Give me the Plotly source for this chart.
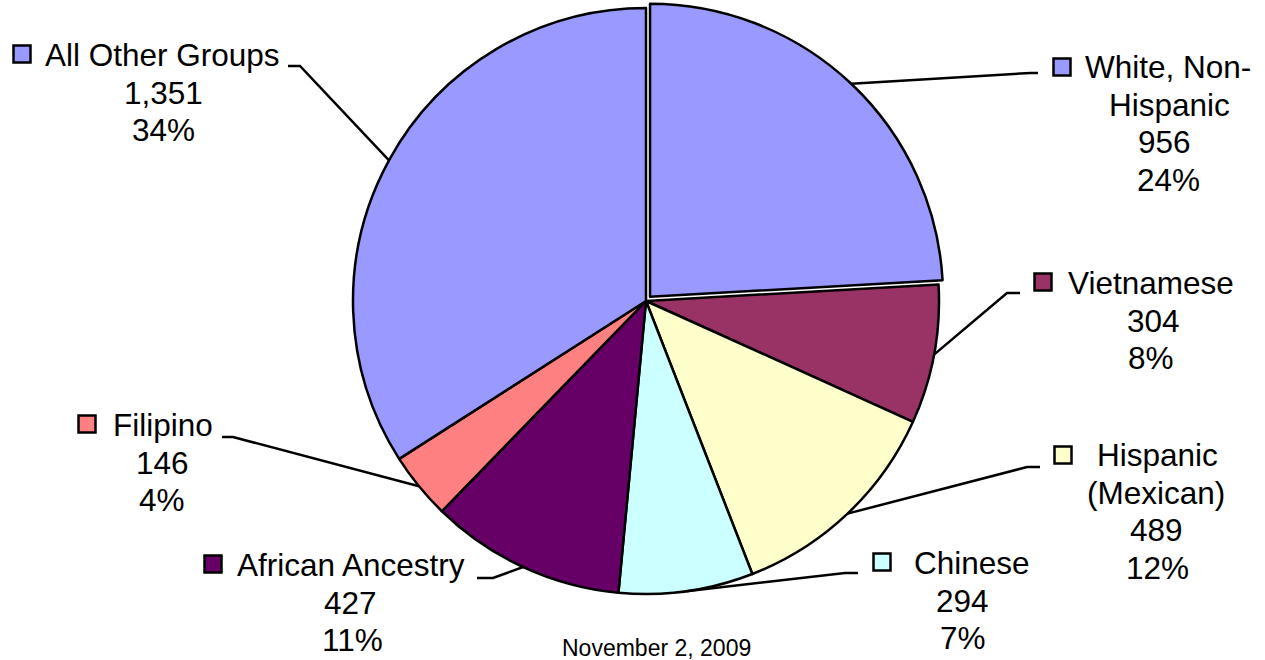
import math
import plotly.graph_objects as go

# ---------------- data ----------------
groups = ["White, Non-Hispanic", "Vietnamese", "Hispanic (Mexican)", "Chinese",
          "African Ancestry", "Filipino", "All Other Groups"]
counts = [956, 304, 489, 294, 427, 146, 1351]
label_lines = [["White, Non-", "Hispanic"], ["Vietnamese"], ["Hispanic", "(Mexican)"],
               ["Chinese"], ["African Ancestry"], ["Filipino"], ["All Other Groups"]]
date_text = "November 2, 2009"

# ---------------- styles / layout ----------------
colors = ["#9999FF", "#993366", "#FFFFCC", "#CCFFFF", "#660066", "#FF8080", "#9999FF"]
pulls = [0.02, 0, 0, 0, 0, 0, 0]

W, H = 1265, 660
CX, CY, R = 646, 301, 293
FONT = "Arial, Liberation Sans, sans-serif"
FS = 31.5
LS = 37.5
SQ = 17

# label placement (pixel layout): line x-centres, first line y, square centre, leader elbow, leader end
label_layout = [
    dict(xs=[1168, 1169, 1164, 1168], y0=67, sq=(1062, 67), elbow=(1030, 73), end=(1038, 73)),
    dict(xs=[1151, 1153, 1151], y0=283, sq=(1043, 282), elbow=(1007, 293), end=(1020, 293)),
    dict(xs=[1157, 1156, 1156, 1157], y0=455, sq=(1063, 455), elbow=(1027, 467), end=(1040, 467)),
    dict(xs=[972, 962, 963], y0=563, sq=(882, 562), elbow=(845, 573), end=(858, 573)),
    dict(xs=[351, 350, 352], y0=565, sq=(213, 564), elbow=(493, 578), end=(477, 578)),
    dict(xs=[163, 162, 162], y0=425, sq=(87, 424), elbow=(233, 437), end=(222, 437)),
    dict(xs=[162, 163, 163], y0=55, sq=(22, 54), elbow=(300, 66), end=(288, 66)),
]

total = sum(counts)
maxpull = max(pulls)
half = R * (1 + maxpull)
dom_x = [(CX - half) / W, (CX + half) / W]
dom_y = [(H - CY - half) / H, (H - CY + half) / H]

fig = go.Figure()
fig.add_trace(go.Pie(
    labels=groups, values=counts, sort=False, direction="clockwise", rotation=0,
    marker=dict(colors=colors, line=dict(color="black", width=2.5)),
    pull=pulls, textinfo="none", hoverinfo="label+value+percent",
    showlegend=False, domain=dict(x=dom_x, y=dom_y),
))

shapes = []
annotations = []
cum = 0
for g, c, lines, col, p, lay in zip(groups, counts, label_lines, colors, pulls, label_layout):
    mid = 2 * math.pi * (cum + c / 2) / total
    cum += c
    rr = R * (1 + p)
    sx = CX + rr * math.sin(mid)
    sy = CY - rr * math.cos(mid)
    ex, ey = lay["elbow"]
    nx, ny = lay["end"]
    shapes.append(dict(type="path", xref="x", yref="y",
                       path=f"M {sx:.1f} {sy:.1f} L {ex} {ey} L {nx} {ny}",
                       line=dict(color="black", width=2.5)))
    qx, qy = lay["sq"]
    shapes.append(dict(type="rect", xref="x", yref="y",
                       x0=qx - SQ / 2, x1=qx + SQ / 2, y0=qy - SQ / 2, y1=qy + SQ / 2,
                       fillcolor=col, line=dict(color="black", width=2.5)))
    pct = round(100 * c / total)
    texts = list(lines) + [f"{c:,}", f"{pct}%"]
    for i, (t, x) in enumerate(zip(texts, lay["xs"])):
        annotations.append(dict(x=x, y=lay["y0"] + i * LS, xref="x", yref="y",
                                text=t, showarrow=False, xanchor="center", yanchor="middle",
                                font=dict(family=FONT, size=FS, color="black")))

annotations.append(dict(x=656, y=648, xref="x", yref="y", text=date_text, showarrow=False,
                        xanchor="center", yanchor="middle",
                        font=dict(family=FONT, size=23, color="black")))

fig.update_layout(
    width=W, height=H, margin=dict(l=0, r=0, t=0, b=0),
    paper_bgcolor="white", plot_bgcolor="rgba(0,0,0,0)",
    xaxis=dict(range=[0, W], visible=False, fixedrange=True, domain=[0, 1]),
    yaxis=dict(range=[H, 0], visible=False, fixedrange=True, domain=[0, 1]),
    shapes=shapes, annotations=annotations, showlegend=False,
)

fig.write_html("out.html", config={"displayModeBar": False},
               post_script="document.body.style.margin='0';document.body.style.overflow='hidden';")
